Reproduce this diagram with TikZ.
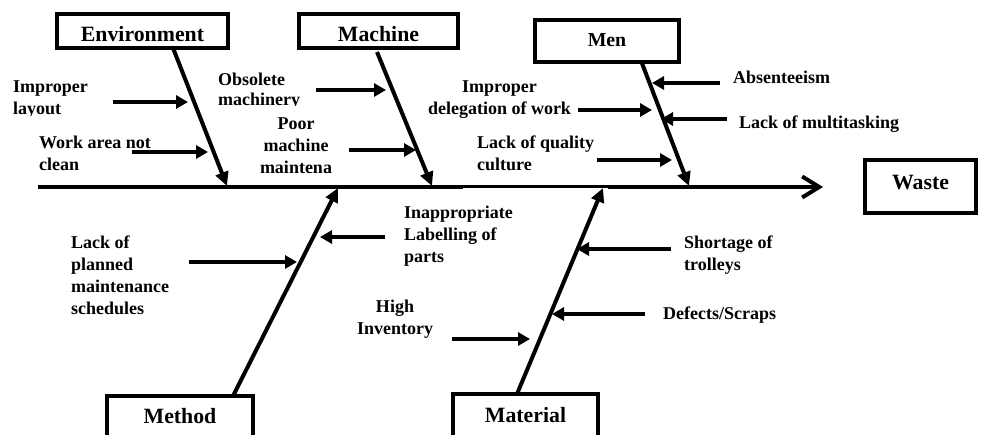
\documentclass[tikz,border=0pt]{standalone}
\usepackage{fontspec}
\setmainfont{Liberation Serif}
\usetikzlibrary{arrows.meta}
\begin{document}
\begin{tikzpicture}[x=1pt,y=-1pt,
  catbox/.style={draw,line width=3.5pt,inner xsep=0pt,inner ysep=0pt,font=\fontsize{21.8}{25}\selectfont\bfseries},
  lbl/.style={inner sep=0pt,font=\fontsize{18}{22}\selectfont\bfseries},
  bone/.style={line width=4pt,-{Triangle[length=14pt,width=13pt]}},
  sub/.style={line width=4pt,-{Triangle[length=12pt,width=13pt]}},
  spine/.style={line width=4pt}]
\clip (0,0) rectangle (992,435);
% category boxes
\node[catbox,minimum width=171pt,minimum height=34pt,text height=28pt,text depth=6pt] (env) at (142.5,31) {Environment};
\node[catbox,minimum width=159pt,minimum height=34pt,text height=28pt,text depth=6pt] (mach) at (378.5,31) {Machine};
\node[catbox,font=\fontsize{19.8}{23}\selectfont\bfseries,minimum width=144pt,minimum height=42pt,text height=27pt,text depth=15pt] (men) at (607,41) {Men};
\node[catbox,minimum width=111pt,minimum height=53pt,text height=30pt,text depth=23pt] (waste) at (920.5,186.5) {Waste};
\node[catbox,minimum width=146pt,minimum height=50pt,text height=27pt,text depth=23pt] (meth) at (180,421) {Method};
\node[catbox,minimum width=145pt,minimum height=50pt,text height=28pt,text depth=22pt] (mat) at (525.5,419) {Material};
% spine
\coordinate (sp0) at (38,187);
\coordinate (sp1) at (463,187);
\coordinate (sp2) at (463,186.5);
\coordinate (sp3) at (608,186.5);
\coordinate (sp4) at (608,187);
\coordinate (sp5) at (823,187);
\draw[spine] (sp0) -- (sp1);
\draw[line width=2.5pt] (sp2) -- (sp3);
\draw[spine,-{Straight Barb[length=17pt,width=21pt]}] (sp4) -- (sp5);
% bones
\coordinate (envT) at (173,48);   \coordinate (envH) at (227,186);
\coordinate (machT) at (377,52);  \coordinate (machH) at (432,186);
\coordinate (menT) at (641.5,62); \coordinate (menH) at (689,186);
\coordinate (methT) at (233,396); \coordinate (methH) at (338,188);
\coordinate (matT) at (517,394);  \coordinate (matH) at (603,188);
\draw[bone] (envT) -- (envH);
\draw[bone] (machT) -- (machH);
\draw[bone] (menT) -- (menH);
\draw[bone] (methT) -- (methH);
\draw[bone] (matT) -- (matH);
% sub arrows
\coordinate (a1s) at (113,102);   \coordinate (a1e) at (188,102);
\coordinate (a2s) at (132,152);   \coordinate (a2e) at (208,152);
\coordinate (a3s) at (316,90);    \coordinate (a3e) at (386,90);
\coordinate (a4s) at (349,150);   \coordinate (a4e) at (416,150);
\coordinate (a5s) at (720,83);    \coordinate (a5e) at (652,83);
\coordinate (a6s) at (578,110);   \coordinate (a6e) at (652,110);
\coordinate (a7s) at (727,119);   \coordinate (a7e) at (661,119);
\coordinate (a8s) at (597,160);   \coordinate (a8e) at (672,160);
\coordinate (a9s) at (189,262);   \coordinate (a9e) at (297,262);
\coordinate (a10s) at (385,237);  \coordinate (a10e) at (320,237);
\coordinate (a11s) at (452,339);  \coordinate (a11e) at (530,339);
\coordinate (a12s) at (671,249);  \coordinate (a12e) at (577,249);
\coordinate (a13s) at (645,314);  \coordinate (a13e) at (552,314);
\foreach \i in {1,...,13} {\draw[sub] (a\i s) -- (a\i e);}
% labels
\begin{scope}
\clip (0,60) rectangle (110,115.5);
\node[lbl,anchor=north west,align=left] (t1) at (13,81) {Improper\\layout};
\end{scope}
\node[lbl,anchor=north west,align=left] (t2) at (39,136) {Work area not\\clean};
\begin{scope}
\clip (210,60) rectangle (320,105.5);
\node[lbl,font=\fontsize{18}{20}\selectfont\bfseries,anchor=north west,align=left] (t3) at (218,73) {Obsolete\\machinery};
\end{scope}
\node[lbl,anchor=north,align=center] (t4) at (296,118) {Poor\\machine\\maintena};
\node[lbl,anchor=north,align=center] (t6) at (499.5,81) {Improper\\delegation of work};
\node[lbl,anchor=north west,align=left] (t5) at (733,71) {Absenteeism};
\node[lbl,anchor=north west,align=left] (t7) at (739,116) {Lack of multitasking};
\node[lbl,anchor=north west,align=left] (t8) at (477,136) {Lack of quality\\culture};
\node[lbl,anchor=north west,align=left] (t9) at (71,236) {Lack of\\planned\\maintenance\\schedules};
\node[lbl,anchor=north west,align=left] (t10) at (404,206) {Inappropriate\\Labelling of\\parts};
\node[lbl,anchor=north,align=center] (t11) at (395,300) {High\\Inventory};
\node[lbl,anchor=north west,align=left] (t12) at (684,236) {Shortage of\\trolleys};
\node[lbl,anchor=north west,align=left] (t13) at (663,307) {Defects/Scraps};
\end{tikzpicture}
\end{document}
